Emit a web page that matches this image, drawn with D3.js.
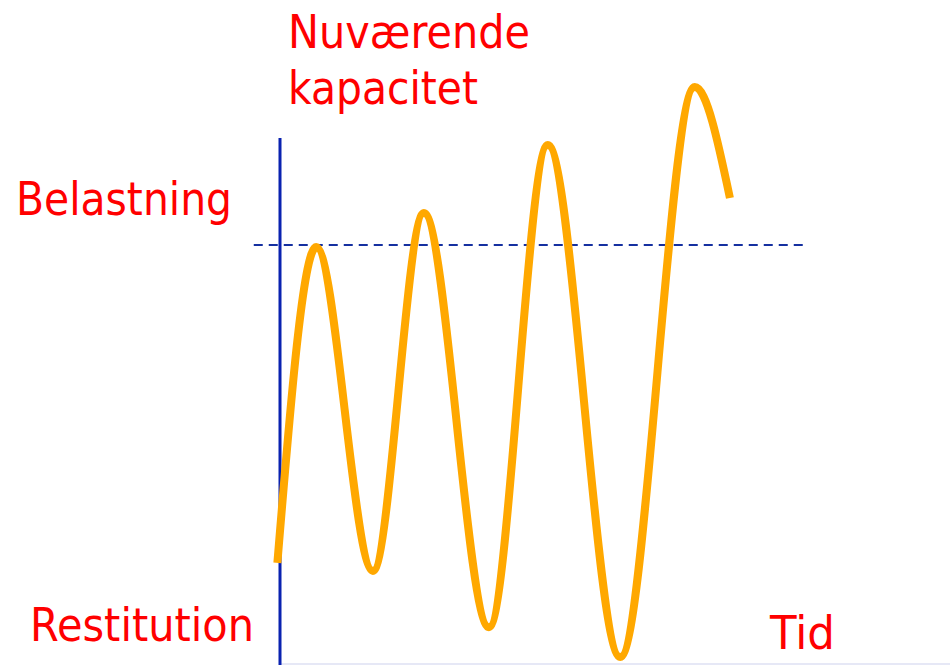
<!DOCTYPE html>
<html>
<head>
<meta charset="utf-8">
<script src="https://cdn.jsdelivr.net/npm/d3@7"></script>
<style>
  html, body { margin: 0; padding: 0; background: #fff; }
  svg { display: block; }
</style>
</head>
<body>
<div id="root"></div>
<script>
const width = 950;
const height = 665;

// time (arbitrary units) and load, relative to current capacity (= 1)
const times = [-0.05, 0.69, 1.77, 2.74, 3.98, 5.10, 6.48, 7.90, 8.57];
const loads = [0.243, 0.995, 0.224, 1.076, 0.090, 1.238, 0.019, 1.376, 1.112];
const capacity = 1;
const axisTop = 1.255;

const labels = [
  { text: 'Nuværende', x: 288, y: 48, w: 242 },
  { text: 'kapacitet', x: 288, y: 104, w: 190 },
  { text: 'Belastning', x: 16, y: 215, w: 216 },
  { text: 'Restitution', x: 30, y: 641, w: 224 },
  { text: 'Tid', x: 770, y: 649, w: 65 }
];

const x = d3.scaleLinear().domain([0, 10]).range([280, 805]);
const y = d3.scaleLinear().domain([0, capacity]).range([665, 245]);

const svg = d3.select('#root').append('svg')
  .attr('width', width)
  .attr('height', height);

svg.append('rect')
  .attr('width', width)
  .attr('height', height)
  .attr('fill', '#fff');

// faint baseline
svg.append('line')
  .attr('x1', x(0)).attr('x2', width)
  .attr('y1', y(0) - 1).attr('y2', y(0) - 1)
  .attr('stroke', '#e6e8f6')
  .attr('stroke-width', 2);

// capacity line
svg.append('line')
  .attr('x1', x(-0.5)).attr('x2', x(10))
  .attr('y1', y(capacity)).attr('y2', y(capacity))
  .attr('stroke', '#1530a0')
  .attr('stroke-width', 2)
  .attr('stroke-dasharray', '9,6');

// vertical axis
svg.append('line')
  .attr('x1', x(0)).attr('x2', x(0))
  .attr('y1', y(axisTop)).attr('y2', y(0))
  .attr('stroke', '#0a22b0')
  .attr('stroke-width', 3);

const data = times.map((t, i) => ({ t, v: loads[i] }));

const line = d3.line()
  .x(d => x(d.t))
  .y(d => y(d.v))
  .curve(d3.curveMonotoneX);

svg.append('path')
  .datum(data)
  .attr('d', line)
  .attr('fill', 'none')
  .attr('stroke', '#ffa800')
  .attr('stroke-width', 8)
  .attr('stroke-linecap', 'butt');

svg.selectAll('text.label')
  .data(labels)
  .enter()
  .append('text')
  .attr('class', 'label')
  .attr('x', d => d.x)
  .attr('y', d => d.y)
  .attr('textLength', d => d.w)
  .attr('lengthAdjust', 'spacingAndGlyphs')
  .attr('fill', '#ff0000')
  .style('font-family', '"DejaVu Sans", sans-serif')
  .style('font-size', '46px')
  .text(d => d.text);
</script>
</body>
</html>
